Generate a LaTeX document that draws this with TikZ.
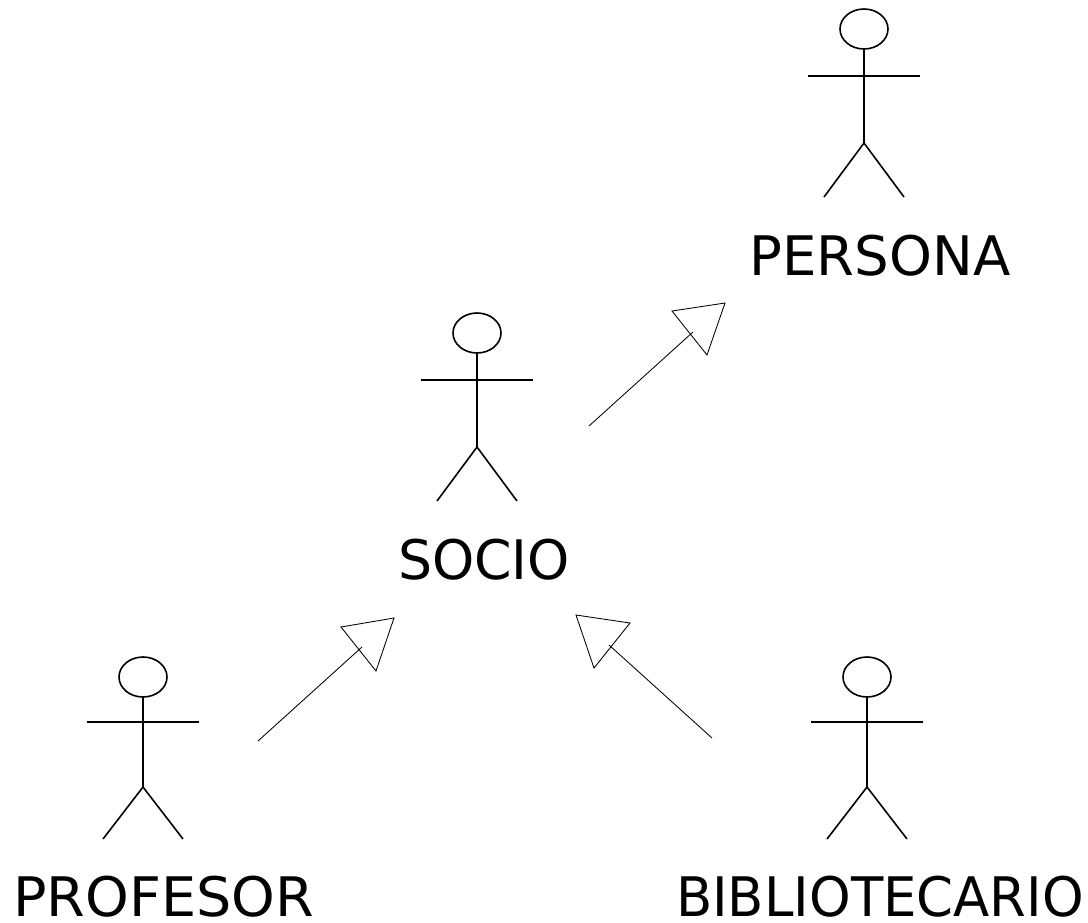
\documentclass[tikz,border=0pt]{standalone}
\usepackage{fontspec}
\usepackage{graphicx}
\setmainfont{DejaVu Sans}
\tikzset{
 x=1pt,y=-1pt,
 lbl/.style={inner sep=0pt,font=\fontsize{54.5}{58}\selectfont,anchor=base,text=black},
 fig/.style={draw=black,line width=1.6pt},
 head/.style={draw=black,line width=1.6pt,fill=white},
 conn/.style={draw=black,line width=0.85pt},
 tipshape/.style={draw=black,line width=0.85pt,line join=miter},
}
\begin{document}
\begin{tikzpicture}
\useasboundingbox (0,0) rectangle (1088,922);
\draw[head] (864,29) ellipse [x radius=24,y radius=20];
\draw[fig] (864,49) -- (864,143);
\draw[fig] (808,76) -- (920,76);
\draw[fig] (824,197) -- (864,143) -- (904,197);
\draw[head] (477,333) ellipse [x radius=24,y radius=20];
\draw[fig] (477,353) -- (477,447);
\draw[fig] (421,380) -- (533,380);
\draw[fig] (437,501) -- (477,447) -- (517,501);
\draw[head] (143,677) ellipse [x radius=24,y radius=20];
\draw[fig] (143,697) -- (143,787);
\draw[fig] (87,722) -- (199,722);
\draw[fig] (103,839) -- (143,787) -- (183,839);
\draw[head] (867,677) ellipse [x radius=24,y radius=20];
\draw[fig] (867,697) -- (867,787);
\draw[fig] (811,722) -- (923,722);
\draw[fig] (827,839) -- (867,787) -- (907,839);
\node[lbl] (persona) at (880,275) {PERSONA};
\node[lbl] (socio) at (484,579) {\scalebox{0.985}[1]{SOCIO}};
\node[lbl] (profesor) at (163.5,916) {\scalebox{1.02}[1]{PROFESOR}};
\node[lbl] (biblio) at (880,916) {\scalebox{0.971}[1]{BIBLIOTECARIO}};
\coordinate (a1) at (589,426); \coordinate (a1t) at (725,303);
\coordinate (a1c) at (693,332);
\coordinate (a1l) at (672,311); \coordinate (a1r) at (707,355);
\draw[conn] (a1) -- (a1c);
\draw[tipshape] (a1t) -- (a1l) -- (a1r) -- cycle;
\coordinate (a2) at (258,741); \coordinate (a2t) at (394,618);
\coordinate (a2c) at (362,647);
\coordinate (a2l) at (341,627); \coordinate (a2r) at (376,671);
\draw[conn] (a2) -- (a2c);
\draw[tipshape] (a2t) -- (a2l) -- (a2r) -- cycle;
\coordinate (a3) at (712,738); \coordinate (a3t) at (576,615);
\coordinate (a3c) at (609,645);
\coordinate (a3l) at (630,623); \coordinate (a3r) at (594,668);
\draw[conn] (a3) -- (a3c);
\draw[tipshape] (a3t) -- (a3l) -- (a3r) -- cycle;
\end{tikzpicture}
\end{document}
